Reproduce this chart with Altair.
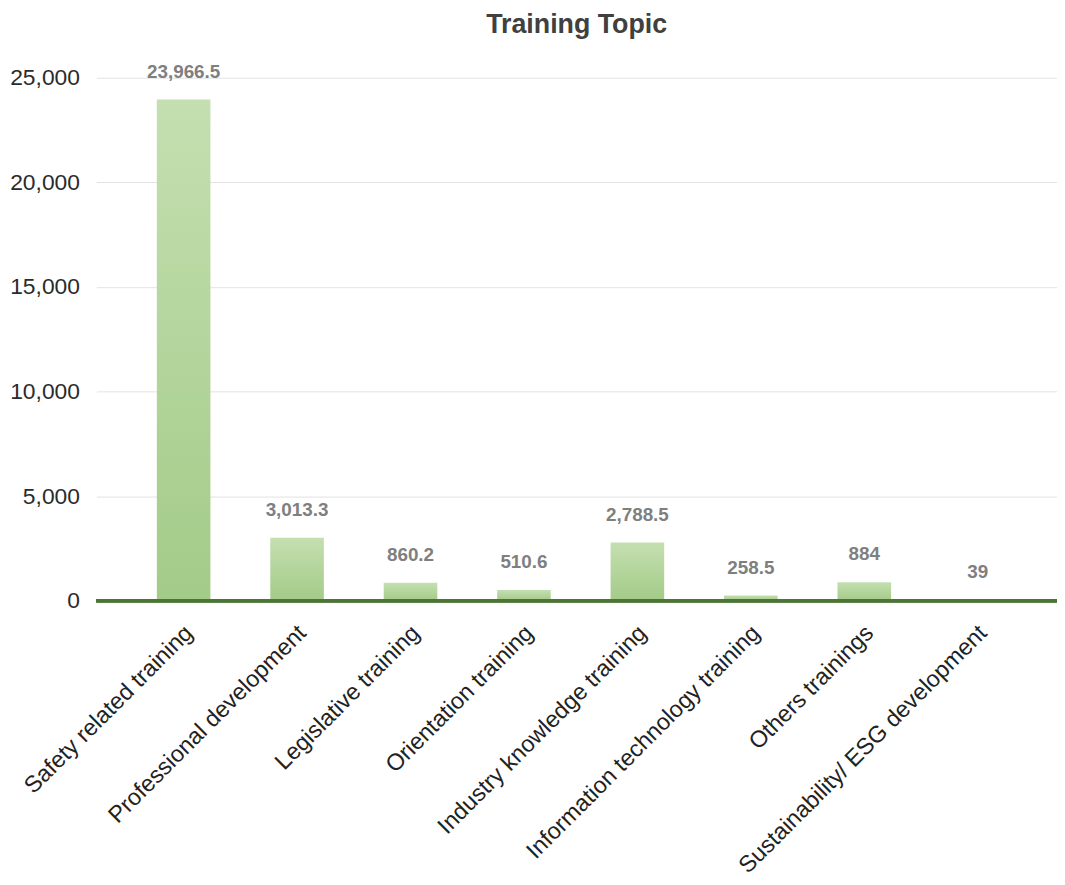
import altair as alt
import pandas as pd

categories = [
    "Safety related training",
    "Professional development",
    "Legislative training",
    "Orientation training",
    "Industry knowledge training",
    "Information technology training",
    "Others trainings",
    "Sustainability/ ESG development",
]
hours = [23966.5, 3013.3, 860.2, 510.6, 2788.5, 258.5, 884, 39]
y_ticks = [0, 5000, 10000, 15000, 20000, 25000]

df = pd.DataFrame({"topic": categories, "value": hours})

FONT = "Liberation Sans"

x_enc = alt.X(
    "topic:N",
    sort=None,
    scale=alt.Scale(paddingInner=0.5276, paddingOuter=0.498, align=0.5355),
    axis=alt.Axis(
        title=None,
        labelAngle=-45,
        labelFontSize=23.5,
        labelColor="#222222",
        labelFont=FONT,
        labelPadding=20,
        labelOffset=-3,
        labelLimit=0,
        ticks=False,
        domain=False,
        grid=False,
    ),
)
y_enc = alt.Y(
    "value:Q",
    scale=alt.Scale(domain=[0, 25000], nice=False),
    axis=alt.Axis(
        title=None,
        values=y_ticks,
        format=",.0f",
        labelFontSize=23,
        labelColor="#2b2b2b",
        labelFont=FONT,
        labelPadding=17,
        ticks=False,
        domain=False,
        grid=True,
        gridColor="#e3e3e3",
        gridWidth=1,
    ),
)

gradient = alt.Gradient(
    gradient="linear",
    stops=[
        alt.GradientStop(color="#c4dfb0", offset=0),
        alt.GradientStop(color="#a3cb88", offset=1),
    ],
    x1=0, x2=0, y1=0, y2=1,
)

bars = alt.Chart(df).mark_bar(color=gradient).encode(x=x_enc, y=y_enc)

labels = alt.Chart(df).mark_text(
    dy=-28, baseline="middle", align="center",
    fontSize=19, font=FONT, color="#7f7f7f", fontWeight="bold",
).encode(
    x=alt.X("topic:N", sort=None),
    y="value:Q",
    text=alt.Text("value:Q", format=",.1~f"),
)

baseline = alt.Chart(df).mark_rule(color="#4b7536", strokeWidth=3).encode(
    y=alt.datum(0)
)

chart = (
    alt.layer(bars, baseline, labels)
    .properties(
        width=968,
        height=527,
        title=alt.TitleParams(
            "Training Topic",
            fontSize=27,
            font=FONT,
            fontWeight="bold",
            color="#404040",
            anchor="middle",
            frame="group",
            offset=24,
        ),
        autosize=alt.AutoSizeParams(type="none"),
        padding={"left": 89, "top": 67, "right": 0, "bottom": 275},
    )
    .configure_view(stroke=None)
)

chart.save("out.html", embed_options={"renderer": "svg", "actions": False})
